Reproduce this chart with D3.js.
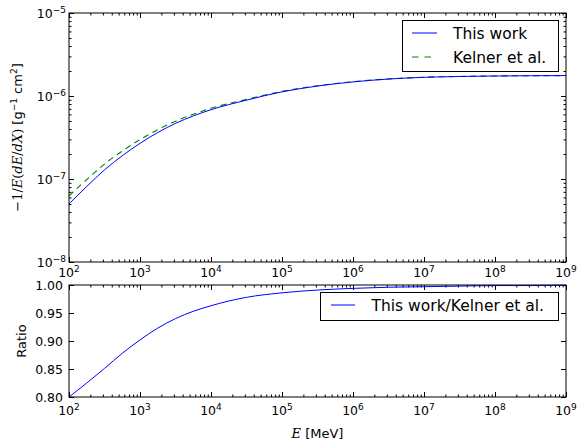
<!DOCTYPE html>
<html>
<head>
<meta charset="utf-8">
<script src="https://cdn.jsdelivr.net/npm/d3@7"></script>
<style>
  html, body { margin: 0; padding: 0; background: #fff; }
  svg { display: block; }
  text { font-family: "DejaVu Sans", sans-serif; fill: #000; }
</style>
</head>
<body>
<svg id="chart" width="579" height="447"></svg>
<script>
// Photon energy grid, MeV (quarter-decade steps to 10^4, half-decade above)
const energy = [1e2, 1.778e2, 3.162e2, 5.623e2, 1e3, 1.778e3, 3.162e3, 5.623e3, 1e4,
                3.162e4, 1e5, 3.162e5, 1e6, 3.162e6, 1e7, 3.162e7, 1e8, 3.162e8, 1e9];

// -1/E (dE/dX), g^-1 cm^2
const thisWork = [5.01e-8, 8.13e-8, 1.288e-7, 1.905e-7, 2.69e-7, 3.63e-7, 4.68e-7, 5.75e-7, 6.84e-7,
                  8.91e-7, 1.122e-6, 1.318e-6, 1.479e-6, 1.600e-6, 1.679e-6, 1.718e-6, 1.742e-6, 1.754e-6, 1.762e-6];
const kelner   = [6.26e-8, 9.85e-8, 1.513e-7, 2.170e-7, 2.982e-7, 3.933e-7, 4.979e-7, 6.034e-7, 7.103e-7,
                  9.11e-7, 1.138e-6, 1.330e-6, 1.488e-6, 1.606e-6, 1.684e-6, 1.721e-6, 1.744e-6, 1.756e-6, 1.763e-6];

// This work / Kelner et al.
const ratio = [0.800, 0.825, 0.851, 0.878, 0.902, 0.923, 0.940, 0.953, 0.963,
               0.978, 0.986, 0.991, 0.994, 0.996, 0.997, 0.998, 0.999, 0.999, 0.9995];

const xTickExp = [2, 3, 4, 5, 6, 7, 8, 9];
const yTopTickExp = [-8, -7, -6, -5];
const yBotTicks = [0.80, 0.85, 0.90, 0.95, 1.00];
const yBotTickLabels = ["0.80", "0.85", "0.90", "0.95", "1.00"];

const svg = d3.select("#chart");
const L = 69, R = 566;
const top1 = 13, bot1 = 262;
const top2 = 285, bot2 = 397;

const x = d3.scaleLog().domain([1e2, 1e9]).range([L, R]);
const yTop = d3.scaleLog().domain([1e-8, 1e-5]).range([bot1, top1]);
const yBot = d3.scaleLinear().domain([0.8, 1.0]).range([bot2, top2]);

const BLUE = "#0000ff", GREEN = "#008000";
const MAJ = 5, MIN = 2.5, FS = 12.5;

const isDecade = v => Math.abs(Math.log10(v) - Math.round(Math.log10(v))) < 1e-9;
const allX = x.ticks();
const majX = allX.filter(isDecade);
const minX = allX.filter(v => !isDecade(v));

function drawTicks(g, axisFn, scale, vals, size, tx, ty) {
  g.append("g")
    .attr("transform", `translate(${tx},${ty})`)
    .call(axisFn(scale).tickValues(vals).tickSizeInner(size).tickSizeOuter(0).tickFormat(""))
    .call(s => s.select(".domain").remove())
    .call(s => s.selectAll("line").attr("stroke", "#000").attr("stroke-width", 1));
}

function powLabel(g, xp, yp, exp, anchor) {
  const t = g.append("text").attr("x", xp).attr("y", yp)
    .attr("text-anchor", anchor).attr("font-size", FS);
  t.append("tspan").text("10");
  t.append("tspan").attr("font-size", FS * 0.72).attr("dy", -5)
    .text(String(exp).replace("-", "\u2212"));
}

// ---------- upper panel ----------
const g1 = svg.append("g");
const yTopAll = yTop.ticks();
const yTopMaj = yTopAll.filter(isDecade);
const yTopMin = yTopAll.filter(v => !isDecade(v));

drawTicks(g1, d3.axisBottom, x, majX, -MAJ, 0, bot1);
drawTicks(g1, d3.axisBottom, x, minX, -MIN, 0, bot1);
drawTicks(g1, d3.axisTop, x, majX, -MAJ, 0, top1);
drawTicks(g1, d3.axisTop, x, minX, -MIN, 0, top1);
drawTicks(g1, d3.axisLeft, yTop, yTopMaj, -MAJ, L, 0);
drawTicks(g1, d3.axisLeft, yTop, yTopMin, -MIN, L, 0);
drawTicks(g1, d3.axisRight, yTop, yTopMaj, -MAJ, R, 0);
drawTicks(g1, d3.axisRight, yTop, yTopMin, -MIN, R, 0);

const lineTop = (vals) => d3.line()
  .x((d, i) => x(energy[i])).y(d => yTop(d))
  .curve(d3.curveMonotoneX)(vals);

g1.append("path").attr("d", lineTop(kelner)).attr("fill", "none")
  .attr("stroke", GREEN).attr("stroke-width", 1.1).attr("stroke-dasharray", "6,4.5");
g1.append("path").attr("d", lineTop(thisWork)).attr("fill", "none")
  .attr("stroke", BLUE).attr("stroke-width", 1);

g1.append("rect").attr("x", L).attr("y", top1).attr("width", R - L).attr("height", bot1 - top1)
  .attr("fill", "none").attr("stroke", "#000").attr("stroke-width", 1);

xTickExp.forEach(e => powLabel(g1, x(Math.pow(10, e)), bot1 + 15, e, "middle"));
yTopTickExp.forEach(e => powLabel(g1, L - 3, yTop(Math.pow(10, e)) + 5, e, "end"));

// y label
const yl = g1.append("text")
  .attr("transform", `translate(22,${(top1 + bot1) / 2}) rotate(-90)`)
  .attr("text-anchor", "middle").attr("font-size", 13);
yl.append("tspan").attr("font-family", "DejaVu Serif").text("\u22121/");
yl.append("tspan").attr("font-family", "DejaVu Serif").attr("font-style", "italic").text("E");
yl.append("tspan").attr("font-family", "DejaVu Serif").text("(");
yl.append("tspan").attr("font-family", "DejaVu Serif").attr("font-style", "italic").text("dE");
yl.append("tspan").attr("font-family", "DejaVu Serif").text("/");
yl.append("tspan").attr("font-family", "DejaVu Serif").attr("font-style", "italic").text("dX");
yl.append("tspan").attr("font-family", "DejaVu Serif").text(")");
yl.append("tspan").text(" [g");
yl.append("tspan").attr("font-size", 9).attr("dy", -5).text("\u22121");
yl.append("tspan").attr("dy", 5).text(" cm");
yl.append("tspan").attr("font-size", 9).attr("dy", -5).text("2");
yl.append("tspan").attr("dy", 5).text("]");

// legend
const lg1 = g1.append("g");
lg1.append("rect").attr("x", 402.5).attr("y", 20.5).attr("width", 156).attr("height", 51)
  .attr("fill", "#fff").attr("stroke", "#000").attr("stroke-width", 1);
lg1.append("line").attr("x1", 412).attr("x2", 437).attr("y1", 33).attr("y2", 33)
  .attr("stroke", BLUE).attr("stroke-width", 1);
lg1.append("line").attr("x1", 412).attr("x2", 437).attr("y1", 57).attr("y2", 57)
  .attr("stroke", GREEN).attr("stroke-width", 1.1).attr("stroke-dasharray", "6.5,6");
lg1.append("text").attr("x", 453).attr("y", 38.5).attr("font-size", 15.5).text("This work");
lg1.append("text").attr("x", 453).attr("y", 62.5).attr("font-size", 15.5).text("Kelner et al.");

// ---------- lower panel ----------
const g2 = svg.append("g");
drawTicks(g2, d3.axisBottom, x, majX, -MAJ, 0, bot2);
drawTicks(g2, d3.axisBottom, x, minX, -MIN, 0, bot2);
drawTicks(g2, d3.axisTop, x, majX, -MAJ, 0, top2);
drawTicks(g2, d3.axisTop, x, minX, -MIN, 0, top2);
drawTicks(g2, d3.axisLeft, yBot, yBotTicks, -MAJ, L, 0);
drawTicks(g2, d3.axisRight, yBot, yBotTicks, -MAJ, R, 0);

g2.append("path")
  .attr("d", d3.line().x((d, i) => x(energy[i])).y(d => yBot(d)).curve(d3.curveMonotoneX)(ratio))
  .attr("fill", "none").attr("stroke", BLUE).attr("stroke-width", 1);

g2.append("rect").attr("x", L).attr("y", top2).attr("width", R - L).attr("height", bot2 - top2)
  .attr("fill", "none").attr("stroke", "#000").attr("stroke-width", 1);

xTickExp.forEach(e => powLabel(g2, x(Math.pow(10, e)), bot2 + 18, e, "middle"));
yBotTicks.forEach((v, i) => g2.append("text").attr("x", L - 6).attr("y", yBot(v) + 4.5)
  .attr("text-anchor", "end").attr("font-size", FS).text(yBotTickLabels[i]));

g2.append("text").attr("transform", `translate(26,${(top2 + bot2) / 2}) rotate(-90)`)
  .attr("text-anchor", "middle").attr("font-size", 13).text("Ratio");

const xl = svg.append("text").attr("x", (L + R) / 2).attr("y", 438)
  .attr("text-anchor", "middle").attr("font-size", 13);
xl.append("tspan").attr("font-family", "DejaVu Serif").attr("font-style", "italic").text("E");
xl.append("tspan").text(" [MeV]");

const lg2 = g2.append("g");
lg2.append("rect").attr("x", 320.5).attr("y", 292.5).attr("width", 238).attr("height", 28)
  .attr("fill", "#fff").attr("stroke", "#000").attr("stroke-width", 1);
lg2.append("line").attr("x1", 331).attr("x2", 355).attr("y1", 305).attr("y2", 305)
  .attr("stroke", BLUE).attr("stroke-width", 1);
lg2.append("text").attr("x", 371.5).attr("y", 310.5).attr("font-size", 15.5).text("This work/Kelner et al.");
</script>
</body>
</html>
